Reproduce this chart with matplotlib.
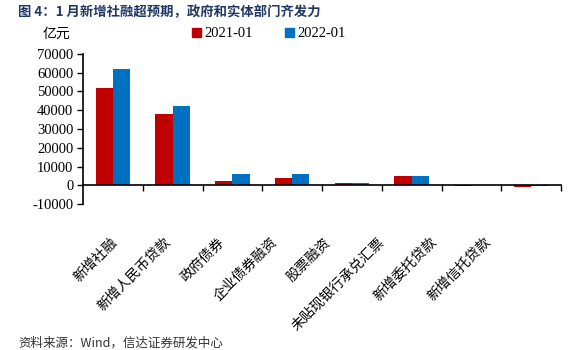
import numpy as np
import matplotlib.pyplot as plt
from matplotlib.patches import Patch

plt.rcParams['font.family'] = ['Liberation Serif', 'Noto Sans CJK SC']
plt.rcParams['axes.unicode_minus'] = False

categories = ['新增社融', '新增人民币贷款', '政府债券', '企业债券融资',
              '股票融资', '未贴现银行承兑汇票', '新增委托贷款', '新增信托贷款']
jan_2021 = [51884, 37959, 2350, 3713, 978, 4838, -178, -710]
jan_2022 = [61726, 41988, 6026, 5850, 1439, 4733, 144, -401]
series_names = ['2021-01', '2022-01']
colors = ['#C00000', '#0070C0']
cjk = ['Noto Sans CJK SC', 'DejaVu Sans']

fig = plt.figure(figsize=(5.78, 3.5), dpi=100)
ax = fig.add_axes([0.1436, 0.417, 0.827, 0.429])

x = np.arange(len(categories))
w = 0.29
ax.bar(x - w / 2, jan_2021, w, color=colors[0])
ax.bar(x + w / 2, jan_2022, w, color=colors[1])

ax.set_xlim(-0.5, len(categories) - 0.5)
ax.set_ylim(-10000, 70000)
ax.set_yticks(np.arange(-10000, 70001, 10000))
ax.tick_params(axis='y', direction='out', length=4, width=1, labelsize=10.5, pad=3)

# x axis sits on zero, ticks between categories
ax.spines['bottom'].set_position(('data', 0))
ax.spines['top'].set_visible(False)
ax.spines['right'].set_visible(False)
ax.spines['left'].set_linewidth(1.2)
ax.spines['bottom'].set_linewidth(1.2)
ax.set_xticks(np.arange(0.5, len(categories), 1))
ax.set_xticklabels([])
ax.tick_params(axis='x', direction='out', length=4, width=1)

# rotated category labels, packed a little tighter than the bars
label_x = 0.057 + 0.1115 * np.arange(len(categories))
for lx, name in zip(label_x, categories):
    ax.text(lx, -0.205, name, transform=ax.transAxes, rotation=45,
            rotation_mode='anchor', ha='right', va='top', fontsize=10,
            family=cjk)

handles = [Patch(color=c, label=n) for c, n in zip(colors, series_names)]
fig.legend(handles=handles, loc='center', bbox_to_anchor=(0.465, 0.903),
           ncol=2, frameon=False, fontsize=10.5, handlelength=0.6,
           handleheight=0.6, handletextpad=0.25, columnspacing=2.2)

fig.text(0.073, 0.903, '亿元', fontsize=10, va='center', family=cjk)
fig.text(0.031, 0.966, '图 4：1 月新增社融超预期，政府和实体部门齐发力',
         fontsize=9.6, fontweight='bold', color='#1F3864', va='center',
         family=cjk)
fig.text(0.031, 1 - 337 / 350, '资料来源：Wind，信达证券研发中心',
         fontsize=9, va='top', style='italic', color='#333333', family=cjk)

fig.savefig('out.png', dpi=100)
